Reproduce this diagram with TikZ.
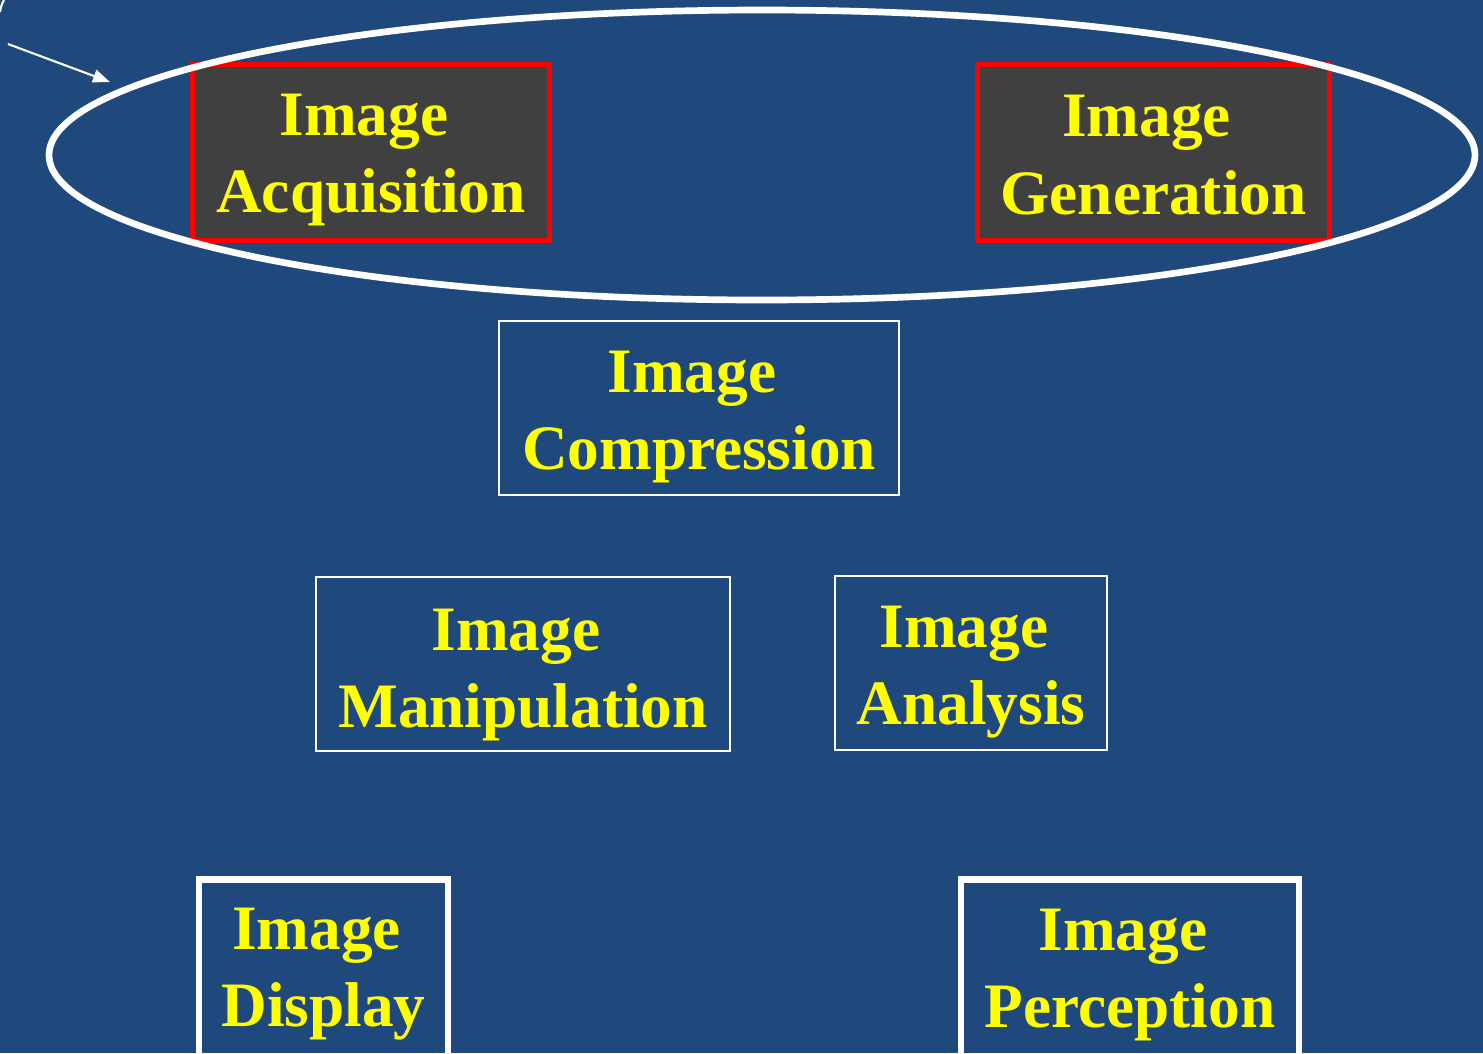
\documentclass[tikz,border=0pt]{standalone}
\usepackage{fontspec}
\setmainfont{Liberation Serif}
\usetikzlibrary{arrows.meta}
\usetikzlibrary{shapes.geometric}
\usetikzlibrary{positioning}
\definecolor{slideblue}{HTML}{1F497D}
\definecolor{boxgray}{HTML}{404040}
\definecolor{txtyellow}{HTML}{FFFF00}
\newcommand{\img}{Image\hspace*{0.14cm}}
\tikzset{%
	lbl/.style={align=center,text=txtyellow,font=\bfseries\fontsize{18}{22}\selectfont,inner sep=0},
	hotbox/.style={rectangle,draw=red,fill=boxgray,line width=1.4,inner sep=0},
	thinbox/.style={rectangle,draw=white,line width=0.6,inner sep=0},
	thickbox/.style={rectangle,draw=white,line width=1.9,inner sep=0},
	ring/.style={ellipse,draw=white,line width=1.9,inner sep=0},
	ptr/.style={arrows={-Triangle[length=0.17cm,width=0.13cm]},line width=0.6,color=white},
}

\begin{document}
\begin{tikzpicture}
	\fill[slideblue] (0,0) rectangle (14.83,-10.53);
	\clip (0,0) rectangle (14.83,-10.53);
	
	% the two source boxes
	\node (acqbox) at (3.71,-1.525) [hotbox,minimum width=3.57cm,minimum height=1.76cm] {};
	\node (acq) at (3.71,-1.60) [lbl] {\img\\Acquisition};
	\node (genbox) at (11.535,-1.525) [hotbox,minimum width=3.52cm,minimum height=1.76cm] {};
	\node (gen) at (11.535,-1.55) [lbl] {\img\\Generation};
	\node (grp) at (7.62,-1.55) [ring,minimum width=14.26cm,minimum height=2.90cm] {};
	
	% pointer onto the ring
	\coordinate (tail) at (0.08,-0.44);
	\coordinate (tip) at (1.10,-0.82);
	\draw[ptr] (tail) -- (tip);
	\draw[white,line width=0.6] (0,-0.12) to[bend left=10] (0.04,0);
	
	% processing boxes
	\node (cmpbox) at (6.99,-4.08) [thinbox,minimum width=4.0cm,minimum height=1.74cm] {};
	\node (cmp) at (6.99,-4.17) [lbl] {\img\\Compression};
	\node (manbox) at (5.23,-6.64) [thinbox,minimum width=4.14cm,minimum height=1.74cm] {};
	\node (man) at (5.23,-6.75) [lbl] {\img\\Manipulation};
	\node (anabox) at (9.71,-6.63) [thinbox,minimum width=2.72cm,minimum height=1.74cm] {};
	\node (ana) at (9.71,-6.72) [lbl] {\img\\Analysis};
	
	% output boxes, running off the bottom
	\node (dispbox) at (3.235,-8.76) [thickbox,anchor=north,minimum width=2.49cm,minimum height=2.4cm] {};
	\node (disp) at (3.235,-9.74) [lbl] {\img\\Display};
	\node (percbox) at (11.30,-8.76) [thickbox,anchor=north,minimum width=3.38cm,minimum height=2.4cm] {};
	\node (perc) at (11.30,-9.75) [lbl] {\img\\Perception};
\end{tikzpicture}
\end{document}
